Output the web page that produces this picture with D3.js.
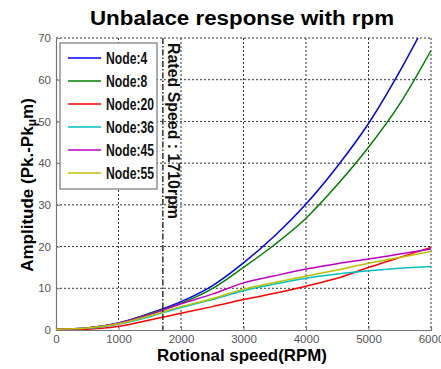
<!DOCTYPE html>
<html>
<head>
<meta charset="utf-8">
<script src="https://cdn.jsdelivr.net/npm/d3@7"></script>
<style>
  body { margin: 0; background: #fff; }
  svg { display: block; }
</style>
</head>
<body>
<svg id="chart" width="441" height="369"></svg>
<script>
// rpm values shared by every series
var rpm = [0, 500, 1000, 1500, 2000, 2500, 3000, 3500, 4000, 4500, 5000, 5500, 6000];

// amplitudes
var node4  = [0.2, 0.5, 1.7, 4.0, 6.8, 10.6, 16.1, 22.6, 30.2, 39.2, 49.5, 62.0, 76.0];
var node8  = [0.2, 0.5, 1.6, 3.9, 6.4, 9.9, 15.0, 20.5, 26.8, 34.8, 43.8, 54.2, 67.0];
var node20 = [0.1, 0.2, 0.9, 2.4, 4.0, 5.6, 7.3, 8.8, 10.5, 12.4, 15.0, 17.4, 19.8];
var node36 = [0.2, 0.4, 1.4, 3.2, 5.4, 7.3, 9.4, 11.0, 12.4, 13.4, 14.2, 14.8, 15.2];
var node45 = [0.2, 0.5, 1.6, 3.7, 6.3, 8.6, 11.3, 13.0, 14.6, 15.9, 17.0, 18.2, 19.4];
var node55 = [0.2, 0.5, 1.5, 3.4, 5.6, 7.5, 9.8, 11.4, 12.9, 14.4, 16.0, 17.4, 18.8];

var seriesNames = ["Node:4", "Node:8", "Node:20", "Node:36", "Node:45", "Node:55"];
var seriesValues = [node4, node8, node20, node36, node45, node55];
var seriesColors = ["#0000ff", "#008000", "#ff0000", "#00bfbf", "#bf00bf", "#bfbf00"];

var xTicks = [0, 1000, 2000, 3000, 4000, 5000, 6000];
var yTicks = [0, 10, 20, 30, 40, 50, 60, 70];
var ratedSpeed = 1710;

var svg = d3.select("#chart");
// note: "top" is taken by window.top, so use plot* names
var plotL = 56, plotR = 431, plotT = 38, plotB = 330;

var x = d3.scaleLinear().domain([0, 6000]).range([plotL, plotR]);
var y = d3.scaleLinear().domain([0, 70]).range([plotB, plotT]);

// grid (dotted)
svg.append("g")
    .selectAll("line")
    .data(xTicks.slice(1))
    .enter()
    .append("line")
    .attr("x1", d => x(d)).attr("x2", d => x(d))
    .attr("y1", plotT).attr("y2", plotB)
    .attr("stroke", "#333").attr("stroke-width", 1)
    .attr("stroke-dasharray", "2,2");

svg.append("g")
    .selectAll("line")
    .data(yTicks.slice(1))
    .enter()
    .append("line")
    .attr("x1", plotL).attr("x2", plotR)
    .attr("y1", d => y(d)).attr("y2", d => y(d))
    .attr("stroke", "#333").attr("stroke-width", 1)
    .attr("stroke-dasharray", "2,2");

// axes
var xAxis = svg.append("g")
    .attr("transform", "translate(0," + plotB + ")")
    .call(d3.axisBottom(x).tickValues(xTicks).tickSize(-4).tickPadding(5).tickFormat(d3.format("d")));
var yAxis = svg.append("g")
    .attr("transform", "translate(" + plotL + ",0)")
    .call(d3.axisLeft(y).tickValues(yTicks).tickSize(-4).tickPadding(5));

[xAxis, yAxis].forEach(function (a) {
    a.select(".domain").attr("stroke", "#777").attr("stroke-width", 1.2);
    a.selectAll(".tick line").attr("stroke", "#777");
    a.selectAll("text")
        .attr("fill", "#555")
        .attr("font-family", "Liberation Sans, Arial, sans-serif")
        .attr("font-size", 11.5);
});

// clip lines to the plot box
svg.append("clipPath").attr("id", "plotclip")
    .append("rect")
    .attr("x", plotL).attr("y", plotT)
    .attr("width", plotR - plotL).attr("height", plotB - plotT);

var line = d3.line()
    .x((d, i) => x(rpm[i]))
    .y(d => y(d))
    .curve(d3.curveMonotoneX);

svg.append("g")
    .attr("clip-path", "url(#plotclip)")
    .selectAll("path")
    .data(seriesValues)
    .enter()
    .append("path")
    .attr("d", d => line(d))
    .attr("fill", "none")
    .attr("stroke", (d, i) => seriesColors[i])
    .attr("stroke-width", 1.5);

// rated speed marker
svg.append("line")
    .attr("x1", x(ratedSpeed)).attr("x2", x(ratedSpeed))
    .attr("y1", plotT).attr("y2", plotB)
    .attr("stroke", "#000").attr("stroke-width", 1.2)
    .attr("stroke-dasharray", "6,2,1.5,2");

svg.append("text")
    .attr("transform", "translate(" + (x(ratedSpeed) + 5) + "," + (plotT + 5) + ") rotate(90)")
    .attr("font-family", "Liberation Sans, Arial, sans-serif")
    .attr("font-weight", "bold")
    .attr("font-size", 16)
    .attr("fill", "#111")
    .attr("textLength", 176)
    .attr("lengthAdjust", "spacingAndGlyphs")
    .text("Rated Speed : 1710rpm");

// legend
var legend = svg.append("g").attr("transform", "translate(60,43)");
legend.append("rect")
    .attr("width", 97).attr("height", 146)
    .attr("fill", "#fff").attr("stroke", "#777").attr("stroke-width", 1.2);

var items = legend.selectAll("g.item")
    .data(seriesNames)
    .enter()
    .append("g")
    .attr("transform", (d, i) => "translate(0," + (15 + i * 23) + ")");
items.append("line")
    .attr("x1", 8).attr("x2", 41)
    .attr("stroke", (d, i) => seriesColors[i])
    .attr("stroke-width", 1.5);
// the legend font is a narrow one, squeeze a normal bold font
items.append("text")
    .attr("transform", "translate(46,6) scale(0.76,1)")
    .attr("font-family", "Liberation Sans, Arial, sans-serif")
    .attr("font-weight", "bold")
    .attr("font-size", 16)
    .attr("fill", "#111")
    .text(d => d);

// titles
svg.append("text")
    .attr("x", 242).attr("y", 25)
    .attr("text-anchor", "middle")
    .attr("font-family", "Liberation Sans, Arial, sans-serif")
    .attr("font-weight", "bold")
    .attr("font-size", 20)
    .attr("textLength", 304)
    .attr("lengthAdjust", "spacingAndGlyphs")
    .text("Unbalace response with rpm");

svg.append("text")
    .attr("x", 242).attr("y", 361)
    .attr("text-anchor", "middle")
    .attr("font-family", "Liberation Sans, Arial, sans-serif")
    .attr("font-weight", "bold")
    .attr("font-size", 17)
    .attr("textLength", 170)
    .attr("lengthAdjust", "spacingAndGlyphs")
    .text("Rotional speed(RPM)");

var yl = svg.append("text")
    .attr("transform", "translate(33,185) rotate(-90)")
    .attr("text-anchor", "middle")
    .attr("font-family", "Liberation Sans, Arial, sans-serif")
    .attr("font-weight", "bold")
    .attr("font-size", 17);
yl.append("tspan").text("Amplitude (Pk.-Pk");
yl.append("tspan").attr("font-size", 12).attr("dy", 3).text("\u03bc");
yl.append("tspan").attr("dy", -3).text("m)");
</script>
</body>
</html>
